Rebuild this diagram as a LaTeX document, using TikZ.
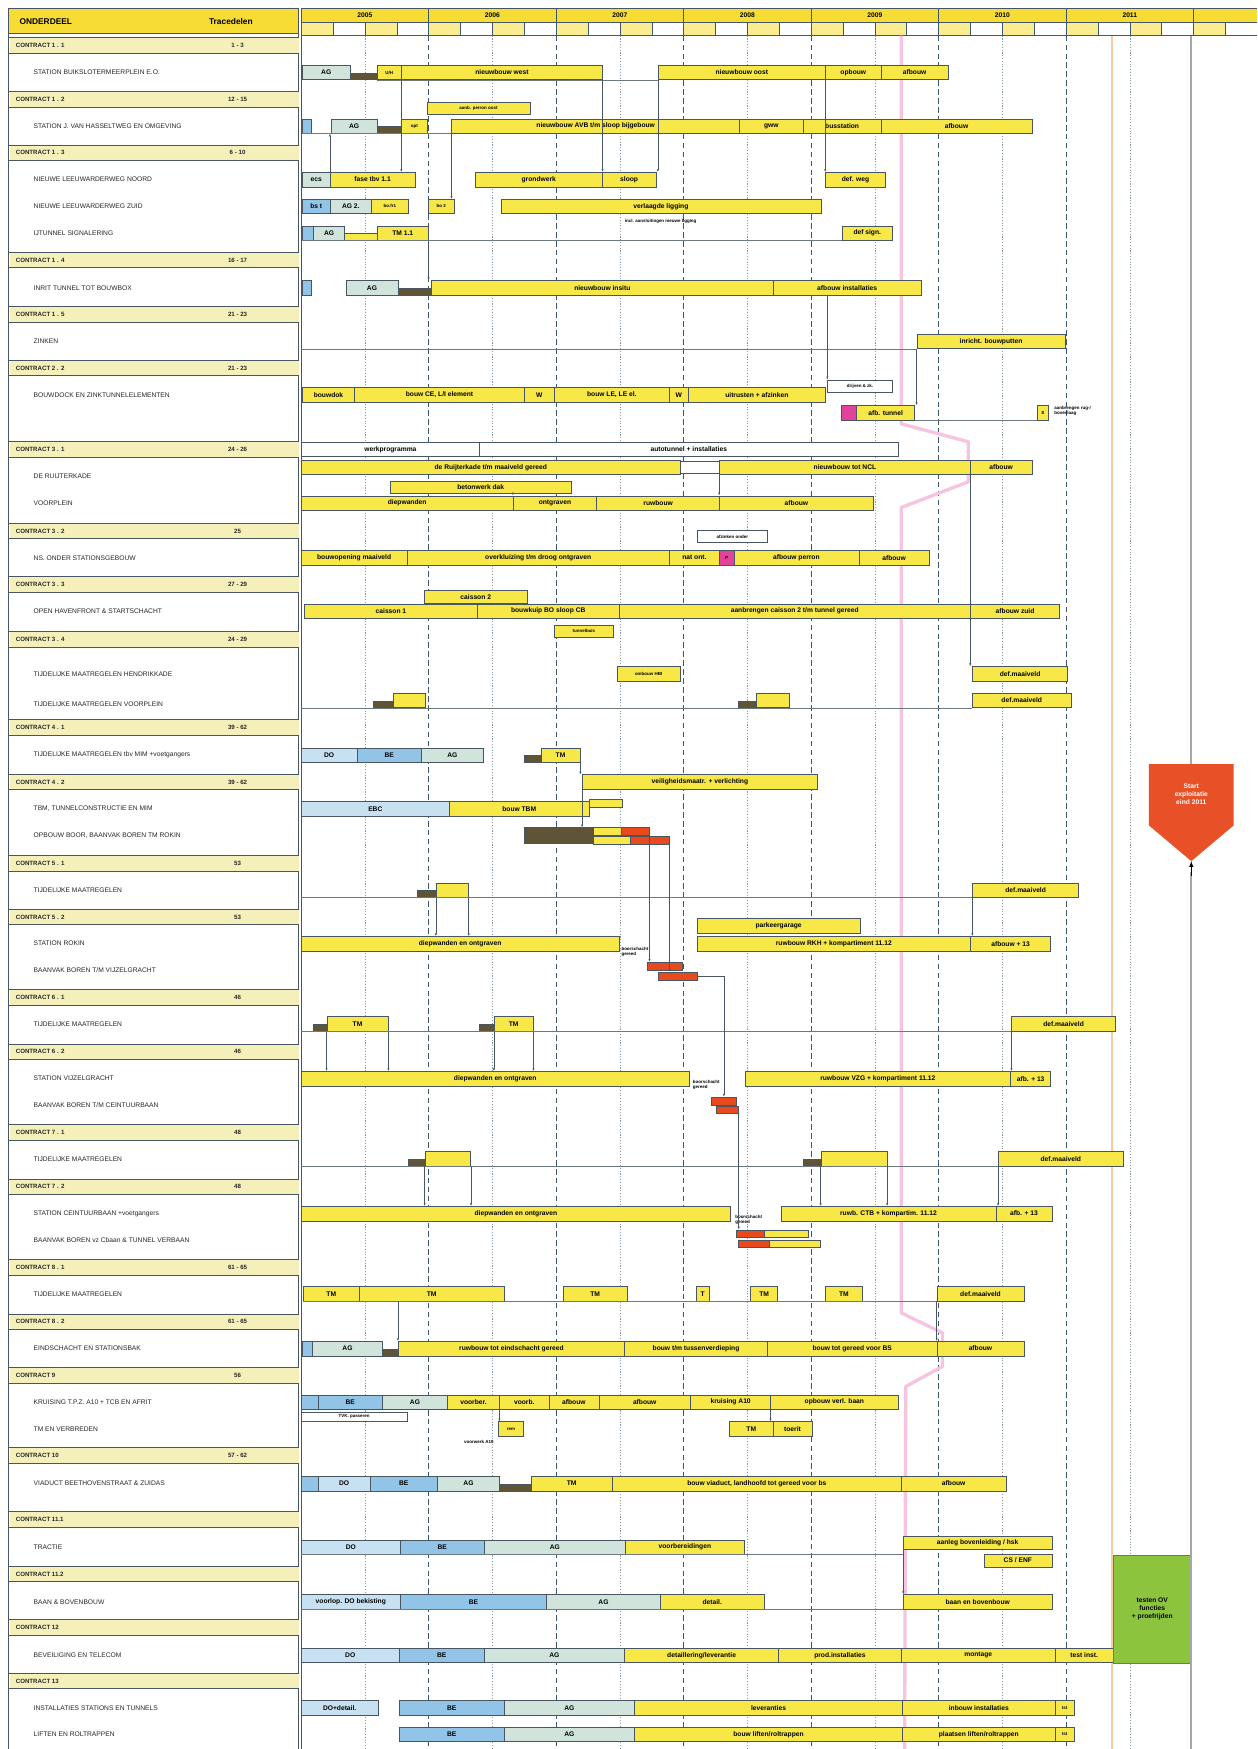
\documentclass[tikz,border=0pt]{standalone}
\usepackage{fontspec}
\setmainfont{Liberation Sans}
\usetikzlibrary{arrows.meta}

\definecolor{yel}{RGB}{247,232,72}
\definecolor{hdyel}{RGB}{246,220,52}
\definecolor{bandyel}{RGB}{245,240,185}
\definecolor{dofill}{RGB}{200,225,242}
\definecolor{befill}{RGB}{146,196,232}
\definecolor{agfill}{RGB}{208,228,220}
\definecolor{drkfill}{RGB}{96,84,54}
\definecolor{boorfill}{RGB}{232,74,30}
\definecolor{magfill}{RGB}{226,66,156}
\definecolor{bord}{RGB}{72,86,100}
\definecolor{gridc}{RGB}{60,86,112}
\definecolor{pinkl}{RGB}{246,196,224}
\definecolor{orl}{RGB}{248,204,160}
\definecolor{grn}{RGB}{140,196,62}
\definecolor{startred}{RGB}{232,80,40}

\newcommand{\task}[6][ybar]{\node[task,#1,minimum width={(#4-#3)*1pt}] (#2) at ({(#3+#4)/2},#5) {#6};}

\begin{document}
\begin{tikzpicture}[x=1pt,y=-1pt,>=latex,
  task/.style={draw=bord,line width=0.5pt,inner sep=0pt,minimum height=13pt,font=\fontsize{6}{6}\selectfont\bfseries},
  ybar/.style={fill=yel},
  dobar/.style={fill=dofill},
  bebar/.style={fill=befill},
  agbar/.style={fill=agfill},
  dkbar/.style={fill=drkfill,minimum height=6pt,yshift=-3.5pt},
  hbar/.style={fill=yel,minimum height=6pt,yshift=-3.5pt},
  tbar/.style={fill=yel,minimum height=7pt},
  rdbar/.style={fill=boorfill,minimum height=7pt},
  mgbar/.style={fill=magfill},
  wbar/.style={fill=white,minimum height=11pt},
  sm/.style={font=\fontsize{4}{4}\selectfont\bfseries},
  note/.style={font=\fontsize{4}{4.5}\selectfont\bfseries,inner sep=0pt,align=left,anchor=west},
  item/.style={anchor=west,inner sep=0pt,font=\fontsize{6}{6}\selectfont,text=black!85},
  clab/.style={anchor=west,inner sep=0pt,font=\fontsize{5.5}{6}\selectfont\bfseries,text=black!85},
  tab/.style={draw=bord,line width=0.8pt},
  yline/.style={draw=gridc,line width=0.9pt,dash pattern=on 5pt off 3pt},
  hline/.style={draw=gridc!60,line width=0.4pt,dash pattern=on 1pt off 1.5pt},
  dep/.style={draw=bord,line width=0.5pt,-{Latex[length=2.5pt,width=2pt]}},
  link/.style={draw=bord!80,line width=0.5pt}]

\useasboundingbox (0,0) rectangle (1127,1568);
\coordinate (chL) at (270,0);

% kop
\fill[hdyel] (8,8) rectangle (268,30);
\draw[tab] (8,8) rectangle (268,30);
\node[anchor=west,font=\fontsize{7.5}{8}\selectfont\bfseries] (ond) at (14,19) {ONDERDEEL};
\node[font=\fontsize{7.5}{8}\selectfont\bfseries] (trc) at (207,19) {Tracedelen};

\fill[hdyel] (270,8) rectangle (1127,20);
\foreach \i in {0,2,...,28}
  \fill[hdyel!55] (270+28.571*\i,20) rectangle (298.571+28.571*\i,32);
\foreach \i in {1,...,29}
  \draw[gridc,line width=0.4pt] (270+28.571*\i,20) -- (270+28.571*\i,32);
\foreach \i in {0,...,7}
  \draw[gridc,line width=0.8pt] (270+114.286*\i,8) -- (270+114.286*\i,32);
\foreach \yr [count=\i from 0] in {2005,...,2011}
  \node[font=\fontsize{6}{6}\selectfont\bfseries] (yr\yr) at (327.14+114.286*\i,14) {\yr};
\draw[tab] (270,8) -- (1127,8) (270,20) -- (1127,20) (270,32) -- (1127,32);

% raster
\foreach \i in {1,...,6}
  \draw[yline] (270+114.286*\i,32) -- (270+114.286*\i,1568);
\foreach \i in {0,...,6}
  \draw[hline] (327.14+114.286*\i,32) -- (327.14+114.286*\i,1568);
\draw[pinkl,line width=3pt,line join=round] (808,32) -- (808,380) -- (868,396) -- (868,432) -- (808,455) -- (808,1177) -- (845,1195) -- (845,1225) -- (812,1243) -- (811,1568);
\draw[orl,line width=2pt] (997,32) -- (997,1568);
\draw[gray!70,line width=2pt] (1068,32) -- (1068,686);

% tabel
\draw[tab] (8,8) -- (8,1568) (268,8) -- (268,1568) (270,8) -- (270,1568);
\foreach \yy/\nm/\tr [count=\i] in {41/1 . 1/1 - 3, 89/1 . 2/12 - 15, 137/1 . 3/6 - 10, 233/1 . 4/16 - 17,
  282/1 . 5/21 - 23, 330/2 . 2/21 - 23, 403/3 . 1/24 - 26, 476/3 . 2/25, 524/3 . 3/27 - 29,
  573/3 . 4/24 - 29, 652/4 . 1/39 - 62, 701/4 . 2/39 - 62, 774/5 . 1/53, 822/5 . 2/53,
  894/6 . 1/46, 943/6 . 2/46, 1015/7 . 1/48, 1064/7 . 2/48, 1136/8 . 1/61 - 65, 1185/8 . 2/61 - 65,
  1233/9/56, 1305/10/57 - 62, 1362/11.1/{}, 1411/11.2/{}, 1459/12/{}, 1507/13/{}}
{
  \fill[bandyel] (9,\yy-7) rectangle (268,\yy+7);
  \draw[tab] (8,\yy-7) -- (268,\yy-7) (8,\yy+7) -- (268,\yy+7);
  \node[clab] (ct\i) at (14,\yy) {CONTRACT \nm};
  \node[clab,anchor=center] (tr\i) at (213,\yy) {\tr};
}

\node[item] (n65) at (30,65) {STATION BUIKSLOTERMEERPLEIN E.O.};
\node[item] (n113) at (30,113) {STATION J. VAN HASSELTWEG EN OMGEVING};
\node[item] (n161) at (30,161) {NIEUWE LEEUWARDERWEG NOORD};
\node[item] (n185) at (30,185) {NIEUWE LEEUWARDERWEG ZUID};
\node[item] (n209) at (30,209) {IJTUNNEL SIGNALERING};
\node[item] (n258) at (30,258) {INRIT TUNNEL TOT BOUWBOX};
\node[item] (n306) at (30,306) {ZINKEN};
\node[item] (n354) at (30,354) {BOUWDOCK EN ZINKTUNNELELEMENTEN};
\node[item] (n427) at (30,427) {DE RUIJTERKADE};
\node[item] (n451) at (30,451) {VOORPLEIN};
\node[item] (n500) at (30,500) {NS. ONDER STATIONSGEBOUW};
\node[item] (n548) at (30,548) {OPEN HAVENFRONT \& STARTSCHACHT};
\node[item] (n604) at (30,604) {TIJDELIJKE MAATREGELEN  HENDRIKKADE};
\node[item] (n631) at (30,631) {TIJDELIJKE MAATREGELEN VOORPLEIN};
\node[item] (n677) at (30,677) {TIJDELIJKE MAATREGELEN tbv MIM +voetgangers};
\node[item] (n725) at (30,725) {TBM, TUNNELCONSTRUCTIE EN MIM};
\node[item] (n749) at (30,749) {OPBOUW BOOR, BAANVAK BOREN TM ROKIN};
\node[item] (n798) at (30,798) {TIJDELIJKE MAATREGELEN};
\node[item] (n846) at (30,846) {STATION ROKIN};
\node[item] (n870) at (30,870) {BAANVAK BOREN T/M VIJZELGRACHT};
\node[item] (n918) at (30,918) {TIJDELIJKE MAATREGELEN};
\node[item] (n967) at (30,967) {STATION VIJZELGRACHT};
\node[item] (n991) at (30,991) {BAANVAK BOREN T/M CEINTUURBAAN};
\node[item] (n1039) at (30,1039) {TIJDELIJKE MAATREGELEN};
\node[item] (n1088) at (30,1088) {STATION CEINTUURBAAN +voetgangers};
\node[item] (n1112) at (30,1112) {BAANVAK BOREN vz Cbaan \& TUNNEL VERBAAN};
\node[item] (n1160) at (30,1160) {TIJDELIJKE MAATREGELEN};
\node[item] (n1209) at (30,1209) {EINDSCHACHT EN STATIONSBAK};
\node[item] (n1257) at (30,1257) {KRUISING T.P.Z. A10 + TCB EN AFRIT};
\node[item] (n1281) at (30,1281) {TM EN VERBREDEN};
\node[item] (n1330) at (30,1330) {VIADUCT BEETHOVENSTRAAT \& ZUIDAS};
\node[item] (n1387) at (30,1387) {TRACTIE};
\node[item] (n1436) at (30,1436) {BAAN \& BOVENBOUW};
\node[item] (n1484) at (30,1484) {BEVEILIGING EN TELECOM};
\node[item] (n1531) at (30,1531) {INSTALLATIES STATIONS EN TUNNELS};
\node[item] (n1555) at (30,1555) {LIFTEN EN ROLTRAPPEN};

% contract 1
\task[agbar]{a1}{271}{314}{65}{AG}
\task[dkbar]{a2}{314}{338}{65}{}
\task[ybar,sm]{a3}{338}{360}{65}{U/H}
\task{a4}{360}{540}{65}{nieuwbouw west}
\task{a5}{590}{740}{65}{nieuwbouw oost}
\task{a6}{740}{790}{65}{opbouw}
\task{a7}{790}{850}{65}{afbouw}

\task[ybar,sm,minimum height=11pt]{b8}{383}{475}{97}{aanb. perron oost}
\task[bebar]{b0}{271}{279}{113}{}
\task[agbar]{b1}{297}{338}{113}{AG}
\task[dkbar]{b2}{338}{360}{113}{}
\task[ybar,sm]{b3}{360}{383}{113}{opt}
\task{b4}{405}{663}{113}{nieuwbouw AVB t/m sloop bijgebouw}
\task{b5}{663}{720}{113}{gww}
\task{b6}{720}{790}{113}{busstation}
\task{b7}{790}{925}{113}{afbouw}

\task[agbar]{c1}{271}{296}{161}{ecs}
\task{c2}{296}{372}{161}{fase tbv 1.1}
\task{c3}{426}{540}{161}{grondwerk}
\task{c4}{540}{588}{161}{sloop}
\task{c5}{740}{794}{161}{def. weg}

\task[bebar]{d1}{271}{296}{185}{bs t}
\task[agbar]{d2}{296}{333}{185}{AG 2.}
\task[ybar,sm]{d3}{333}{366}{185}{bo.fr1}
\task[ybar,sm]{d4}{384}{407}{185}{bo 2}
\task{d5}{449}{736}{185}{verlaagde ligging}
\node[note] (d6) at (560,198) {incl. aansluitingen nieuwe ligging};

\task[bebar]{e0}{271}{281}{209}{}
\task[agbar]{e1}{281}{309}{209}{AG}
\task[hbar]{e2}{309}{338}{209}{}
\task{e3}{338}{384}{209}{TM 1.1}
\task{e4}{755}{800}{209}{def sign.}

\task[bebar]{f0}{271}{279}{258}{}
\task[agbar]{f1}{310}{357}{258}{AG}
\task[dkbar]{f2}{357}{387}{258}{}
\task{f3}{387}{693}{258}{nieuwbouw insitu}
\task{f4}{693}{826}{258}{afbouw installaties}

\task{g1}{822}{955}{306}{inricht. bouwputten}

\task{h1}{271}{318}{354}{bouwdok}
\task{h2}{318}{470}{354}{bouw CE, L/I element}
\task{h3}{470}{497}{354}{W}
\task{h4}{497}{600}{354}{bouw LE, LE el.}
\task{h5}{600}{617}{354}{W}
\task{h6}{617}{740}{354}{uitrusten + afzinken}
\task[wbar,sm]{h7}{742}{800}{346}{drijven \& zk.}
\task[mgbar]{h8}{754}{768}{370}{}
\task{h9}{768}{820}{370}{afb. tunnel}
\task[ybar,sm]{h10}{930}{940}{370}{8}
\node[note] (h11) at (945,368) {aanbrengen rug-/\\bovenlaag};

% contract 3
\task[wbar,task]{i1}{270}{430}{403}{werkprogramma}
\task[wbar,task]{i2}{430}{805}{403}{autotunnel + installaties}

\task{j1}{270}{610}{419}{de Ruijterkade t/m maaiveld gereed}
\task[wbar]{j2}{610}{645}{419}{}
\task{j3}{645}{870}{419}{nieuwbouw tot NCL}
\task{j4}{870}{925}{419}{afbouw}
\task[ybar,minimum height=11pt]{j5}{350}{512}{437}{betonwerk dak}

\task{k1}{270}{460}{451}{diepwanden}
\task{k2}{460}{535}{451}{ontgraven}
\task{k3}{535}{645}{451}{ruwbouw}
\task{k4}{645}{783}{451}{afbouw}

\task[wbar,sm]{l0}{625}{688}{481}{afzinken onder}
\task{l1}{270}{365}{500}{bouwopening maaiveld}
\task{l2}{365}{600}{500}{overkluizing t/m droog ontgraven}
\task{l3}{600}{645}{500}{nat ont.}
\task[mgbar,sm]{l4}{645}{658}{500}{P}
\task{l5}{658}{770}{500}{afbouw perron}
\task{l6}{770}{833}{500}{afbouw}

\task[ybar,minimum height=11pt]{m0}{380}{473}{535}{caisson 2}
\task{m1}{273}{428}{548}{caisson 1}
\task{m2}{428}{555}{548}{bouwkuip BO sloop CB}
\task{m3}{555}{870}{548}{aanbrengen caisson 2 t/m tunnel gereed}
\task{m4}{870}{950}{548}{afbouw zuid}
\task[ybar,sm,minimum height=11pt]{m5}{497}{550}{566}{tunnelbuis}

\task[ybar,sm]{n1}{553}{610}{604}{ombouw HBI}
\task{n2}{872}{957}{604}{def.maaiveld}
\task[dkbar]{o1}{335}{353}{628}{}
\task{o2}{353}{381}{628}{}
\task[dkbar]{o3}{662}{678}{628}{}
\task{o4}{678}{708}{628}{}
\task{o5}{872}{960}{628}{def.maaiveld}

% contract 4
\task[dobar]{p1}{270}{320}{677}{DO}
\task[bebar]{p2}{320}{378}{677}{BE}
\task[agbar]{p3}{378}{433}{677}{AG}
\task[dkbar]{p4}{470}{485}{677}{}
\task{p5}{485}{520}{677}{TM}
\task{q1}{522}{733}{701}{veiligheidsmaatr. + verlichting}
\task[dobar]{r1}{270}{403}{725}{EBC}
\task{r2}{403}{528}{725}{bouw TBM}
\task[tbar]{r3}{528}{558}{720}{}
\task[ybar,fill=drkfill,minimum height=14pt]{s1}{470}{532}{749}{}
\task[tbar]{s2}{532}{560}{745}{}
\task[tbar]{s3}{532}{565}{753}{}
\task[rdbar]{s4}{557}{582}{745}{}
\task[rdbar]{s5}{565}{600}{753}{}

% contract 5
\task[dkbar]{t1}{374}{391}{798}{}
\task{t2}{391}{420}{798}{}
\task{t3}{872}{967}{798}{def.maaiveld}
\task{u0}{625}{771}{830}{parkeergarage}
\task{u1}{270}{555}{846}{diepwanden en ontgraven}
\node[note] (u6) at (557,853) {boorschacht\\gereed};
\task{u2}{625}{870}{846}{ruwbouw RKH + kompartiment 11.12}
\task{u3}{870}{942}{846}{afbouw + 13}
\task[rdbar]{u4}{580}{612}{866}{}
\task[rdbar]{u5}{590}{625}{875}{}

% contract 6
\task[dkbar]{v1}{281}{293}{918}{}
\task{v2}{293}{348}{918}{TM}
\task[dkbar]{v3}{430}{443}{918}{}
\task{v4}{443}{478}{918}{TM}
\task{v5}{907}{1000}{918}{def.maaiveld}
\task{w1}{270}{618}{967}{diepwanden en ontgraven}
\node[note] (w6) at (621,973) {boorschacht\\gereed};
\task{w2}{668}{906}{967}{ruwbouw VZG + kompartiment 11.12}
\task{w3}{906}{942}{967}{afb. + 13}
\task[rdbar]{w4}{638}{660}{987}{}
\task[rdbar]{w5}{642}{662}{995}{}

% contract 7
\task[dkbar]{x1}{366}{381}{1039}{}
\task{x2}{381}{422}{1039}{}
\task[dkbar]{x3}{720}{736}{1039}{}
\task{x4}{736}{795}{1039}{}
\task{x5}{895}{1007}{1039}{def.maaiveld}
\task{y1}{270}{655}{1088}{diepwanden en ontgraven}
\node[note] (y8) at (659,1094) {boorschacht\\gereed};
\task{y2}{700}{893}{1088}{ruwb. CTB + kompartim. 11.12}
\task{y3}{893}{943}{1088}{afb. + 13}
\task[rdbar]{y4}{660}{685}{1106}{}
\task[tbar]{y5}{685}{725}{1106}{}
\task[rdbar]{y6}{662}{690}{1115}{}
\task[tbar]{y7}{690}{735}{1115}{}

% contract 8
\task{z1}{272}{322}{1160}{TM}
\task{z2}{322}{452}{1160}{TM}
\task{z3}{505}{562}{1160}{TM}
\task{z4}{624}{636}{1160}{T}
\task{z5}{673}{697}{1160}{TM}
\task{z6}{740}{773}{1160}{TM}
\task{z7}{840}{918}{1160}{def.maaiveld}
\task[bebar]{aa0}{271}{280}{1209}{}
\task[agbar]{aa1}{280}{343}{1209}{AG}
\task[dkbar]{aa2}{343}{357}{1209}{}
\task{aa3}{357}{560}{1209}{ruwbouw tot eindschacht gereed}
\task{aa4}{560}{688}{1209}{bouw t/m tussenverdieping}
\task{aa5}{688}{840}{1209}{bouw tot gereed voor BS}
\task{aa6}{840}{918}{1209}{afbouw}

% contract 9 en 10
\task[bebar]{bb0}{270}{285}{1257}{}
\task[bebar]{bb1}{285}{343}{1257}{BE}
\task[agbar]{bb2}{343}{401}{1257}{AG}
\task{bb3}{401}{448}{1257}{voorber.}
\task{bb4}{448}{492}{1257}{voorb.}
\task{bb5}{492}{537}{1257}{afbouw}
\task{bb6}{537}{619}{1257}{afbouw}
\task{bb7}{619}{691}{1257}{kruising A10}
\task{bb8}{691}{805}{1257}{opbouw verl. baan}
\task[wbar,sm,minimum height=8pt]{bb9}{270}{365}{1270}{TVK. passeren}
\task[ybar,sm]{cc1}{447}{469}{1281}{rem}
\node[note] (cc4) at (416,1293) {voorwerk A10};
\task{cc2}{654}{693}{1281}{TM}
\task{cc3}{693}{728}{1281}{toerit}
\task[bebar]{dd0}{270}{285}{1330}{}
\task[dobar]{dd1}{285}{332}{1330}{DO}
\task[bebar]{dd2}{332}{392}{1330}{BE}
\task[agbar]{dd3}{392}{448}{1330}{AG}
\task[dkbar]{dd4}{448}{476}{1330}{}
\task{dd5}{476}{549}{1330}{TM}
\task{dd6}{549}{808}{1330}{bouw viaduct, landhoofd tot gereed voor bs}
\task{dd7}{808}{902}{1330}{afbouw}

% contract 11 t/m 13
\task[dobar]{ee1}{270}{359}{1387}{DO}
\task[bebar]{ee2}{359}{434}{1387}{BE}
\task[agbar]{ee3}{434}{561}{1387}{AG}
\task{ee4}{561}{667}{1387}{voorbereidingen}
\task[ybar,minimum height=12pt]{ee5}{810}{943}{1383}{aanleg bovenleiding / hsk}
\task[ybar,minimum height=12pt]{ee6}{882}{943}{1399}{CS / ENF}
\task[dobar]{ff1}{270}{359}{1436}{voorlop. DO bekisting}
\task[bebar]{ff2}{359}{490}{1436}{BE}
\task[agbar]{ff3}{490}{592}{1436}{AG}
\task{ff4}{592}{685}{1436}{detail.}
\task{ff5}{810}{943}{1436}{baan en bovenbouw}
\task[dobar]{gg1}{270}{358}{1484}{DO}
\task[bebar]{gg2}{358}{434}{1484}{BE}
\task[agbar]{gg3}{434}{560}{1484}{AG}
\task{gg4}{560}{698}{1484}{detaillering/leverantie}
\task{gg5}{698}{808}{1484}{prod.installaties}
\task{gg6}{808}{946}{1484}{montage}
\task{gg7}{946}{998}{1484}{test inst.}
\task[dobar]{hh1}{270}{339}{1531}{DO+detail.}
\task[bebar]{hh2}{358}{452}{1531}{BE}
\task[agbar]{hh3}{452}{569}{1531}{AG}
\task{hh4}{569}{809}{1531}{leveranties}
\task{hh5}{809}{946}{1531}{inbouw installaties}
\task[ybar,sm]{hh6}{946}{963}{1531}{tst}
\task[bebar]{ii1}{358}{452}{1555}{BE}
\task[agbar]{ii2}{452}{569}{1555}{AG}
\task{ii3}{569}{809}{1555}{bouw liften/roltrappen}
\task{ii4}{809}{946}{1555}{plaatsen liften/roltrappen}
\task[ybar,sm]{ii5}{946}{963}{1555}{tst}

\node[draw=grn!70!black,fill=grn,minimum width=70pt,minimum height=97pt,align=center,font=\fontsize{6}{7}\selectfont\bfseries] (test) at (1033,1442.5) {testen OV\\functies\\+ proefrijden};

% start exploitatie
\fill[startred] (1030,685) -- (1106,685) -- (1106,740) -- (1068,772) -- (1030,740) -- cycle;
\node[text=white,align=center,font=\fontsize{6}{7.5}\selectfont\bfseries] (start) at (1068,712) {Start\\exploitatie\\eind 2011};
\coordinate (tip) at (1068,772);
\coordinate (bot) at (1068,1568);
\draw[gray!70,line width=2pt] (bot) -- (1068,782);
\draw[->,line width=0.8pt] (1068,785) -- (tip);

% verbindingen
\draw[link] (a3.south west) -- (a5.south west);
\draw[link] (b0.south west) -- (b4.south west);
\draw[link] (e0.south west) -- (e0.south west -| e4.south west);
\draw[link] (g1.south west -| chL) -- (g1.south west);
\draw[link] (h9.south east) -- (h10.south west);
\draw[link] (o1.south west -| chL) -- (o5.south west);
\draw[link] (t1.south west -| chL) -- (t3.south west);
\draw[link] (v1.south west -| chL) -- (v5.south west);
\draw[link] (x1.south west -| chL) -- (x5.south west);
\draw[link] (z1.south west) -- (z7.south west);
\draw[link] (ee1.south west) -- (ee1.south west -| ee5.south west);
\draw[link] (ff1.south west) -- (ff5.south west);

\draw[dep] (c2.north west) -- (c2.north west |- b1.south);
\draw[dep] (a4.south west) -- (a4.south west |- c2.north);
\draw[dep] (b4.south west) -- (b4.south west |- d4.north);
\draw[dep] (a4.south east) -- (a4.south east |- c4.north);
\draw[dep] (a5.south west) -- (a5.south west |- c4.north);
\draw[dep] (a6.south west) -- (a6.south west |- c5.north);
\draw[dep] (e3.south east) -- (e3.south east |- f3.north);
\draw[dep] (f4.south -| h7.north west) -- (h7.north west);
\draw[dep] (g1.south west) -- (g1.south west |- h9.north);
\draw[dep] (j4.south west) -- (j4.south west |- n2.north);
\draw[dep] (j3.south west) -- (j3.south west |- k4.north);
\draw[dep] (k2.north west |- j5.south) -- (k2.north west);
\draw[dep] (p5.south east) -- (p5.south east |- q1.north);
\draw[dep] (q1.south west) -- (q1.south west |- s1.north);
\draw[dep] (s4.south east) -- (s4.south east |- u4.north);
\draw[dep] (s5.south east) -- (s5.south east |- u5.north);
\draw[dep] (u5.east) -| (w4.north);
\draw[dep] (w5.south east) -- (w5.south east |- y4.north);
\draw[dep] (t2.south west) -- (t2.south west |- u1.north);
\draw[dep] (t2.south east) -- (t2.south east |- u1.north);
\draw[dep] (t3.south west) -- (t3.south west |- u3.north);
\draw[dep] (v2.south west) -- (v2.south west |- w1.north);
\draw[dep] (v2.south east) -- (v2.south east |- w1.north);
\draw[dep] (v4.south west) -- (v4.south west |- w1.north);
\draw[dep] (v4.south east) -- (v4.south east |- w1.north);
\draw[dep] (v5.south west) -- (v5.south west |- w3.north);
\draw[dep] (x2.south west) -- (x2.south west |- y1.north);
\draw[dep] (x2.south east) -- (x2.south east |- y1.north);
\draw[dep] (x4.south west) -- (x4.south west |- y2.north);
\draw[dep] (x4.south east) -- (x4.south east |- y2.north);
\draw[dep] (x5.south west) -- (x5.south west |- y3.north);
\draw[dep] (aa3.north west |- z2.south) -- (aa3.north west);
\draw[dep] (z7.south west) -- (z7.south west |- aa6.north);
\draw[dep] (bb4.south west) -- (bb4.south west |- cc1.north);
\draw[dep] (bb8.south west) -- (bb8.south west |- cc3.north);
\draw[dep] (ee5.south west) -- (ee5.south west |- ff5.north);

\end{tikzpicture}
\end{document}
